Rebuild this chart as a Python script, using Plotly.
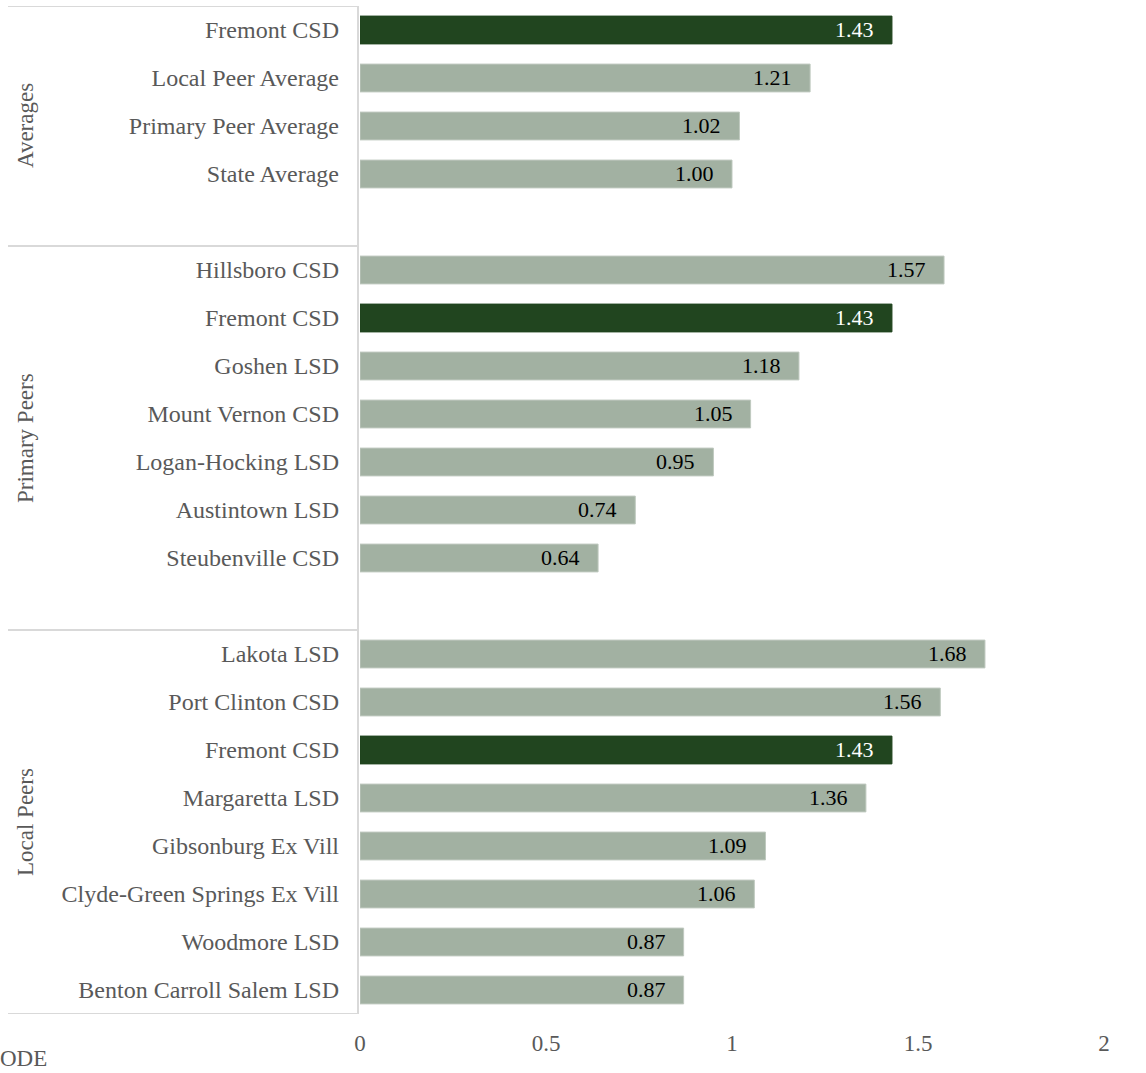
import plotly.graph_objects as go

group_names = ["Averages", "Primary Peers", "Local Peers"]
group_labels = [
    ["Fremont CSD", "Local Peer Average", "Primary Peer Average", "State Average"],
    ["Hillsboro CSD", "Fremont CSD", "Goshen LSD", "Mount Vernon CSD",
     "Logan-Hocking LSD", "Austintown LSD", "Steubenville CSD"],
    ["Lakota LSD", "Port Clinton CSD", "Fremont CSD", "Margaretta LSD",
     "Gibsonburg Ex Vill", "Clyde-Green Springs Ex Vill", "Woodmore LSD",
     "Benton Carroll Salem LSD"],
]
group_values = [
    [1.43, 1.21, 1.02, 1.00],
    [1.57, 1.43, 1.18, 1.05, 0.95, 0.74, 0.64],
    [1.68, 1.56, 1.43, 1.36, 1.09, 1.06, 0.87, 0.87],
]
group_slots = [5, 8, 8]  # rows per group including empty spacer rows
highlight = "Fremont CSD"
x_ticks = [0, 0.5, 1, 1.5, 2]
source_text = "ODE"

DARK = "#21451f"
LIGHT = "#a2b1a2"
GREY = "#595959"
LINE = "#d9d9d9"
FONT = "Liberation Serif, Times New Roman, serif"

W, H = 1146, 1073
ML, MR, MT, MB = 360, 42, 6, 59
PW = W - ML - MR

ys, xs, names, colors, tcolors = [], [], [], [], []
boundaries = [-0.5]
start = 0
centers = []
for labels, vals, slots in zip(group_labels, group_values, group_slots):
    for i, (n, v) in enumerate(zip(labels, vals)):
        ys.append(start + i)
        xs.append(v)
        names.append(n)
        hi = n == highlight
        colors.append(DARK if hi else LIGHT)
        tcolors.append("white" if hi else "black")
    centers.append(start - 0.5 + slots / 2)
    start += slots
    boundaries.append(start - 0.5)

fig = go.Figure(go.Bar(
    x=xs, y=ys, orientation="h",
    marker=dict(color=colors, line=dict(color=["#bfc9bf" if c == LIGHT else DARK for c in colors], width=1)),
    width=0.58, hoverinfo="skip",
))

def px2paper(px):
    return (px - ML) / PW

shapes = []
for b in boundaries:
    shapes.append(dict(type="line", xref="paper", yref="y", x0=px2paper(8), x1=px2paper(358),
                       y0=b, y1=b, line=dict(color=LINE, width=2)))
shapes.append(dict(type="line", xref="paper", yref="y", x0=px2paper(358), x1=px2paper(358),
                   y0=boundaries[0], y1=boundaries[-1], line=dict(color=LINE, width=2)))

annotations = []
for x, y, tc in zip(xs, ys, tcolors):
    annotations.append(dict(text=f"{x:.2f}", x=x, y=y, xref="x", yref="y", showarrow=False,
                            xanchor="right", yanchor="middle", xshift=-16, yshift=1,
                            font=dict(family=FONT, size=22, color=tc)))
for g, c in zip(group_names, centers):
    annotations.append(dict(text=g, xref="paper", yref="y", x=px2paper(25), y=c, textangle=-90,
                            showarrow=False, font=dict(family=FONT, size=23, color=GREY),
                            xanchor="center", yanchor="middle"))
annotations.append(dict(text=source_text, xref="paper", yref="paper", x=px2paper(-2), y=-(1058 - (H - MB)) / (H - MT - MB),
                        showarrow=False, xanchor="left", yanchor="middle",
                        font=dict(family=FONT, size=23, color=GREY)))

fig.update_layout(
    width=W, height=H,
    margin=dict(l=ML, r=MR, t=MT, b=MB, pad=0),
    plot_bgcolor="white", paper_bgcolor="white",
    showlegend=False,
    shapes=shapes, annotations=annotations,
    font=dict(family=FONT, size=20, color=GREY),
    xaxis=dict(range=[0, 2], tickvals=x_ticks, ticktext=[f"{t:g}" for t in x_ticks],
               showgrid=False, zeroline=False, showline=False, ticks="",
               tickfont=dict(family=FONT, size=23, color=GREY), ticklabelstandoff=13),
    yaxis=dict(range=[boundaries[-1], boundaries[0]], tickvals=ys, ticktext=names,
               showgrid=False, zeroline=False, showline=False, ticks="",
               tickfont=dict(family=FONT, size=24, color=GREY), ticklabelstandoff=20),
)

fig.write_html("out.html")
